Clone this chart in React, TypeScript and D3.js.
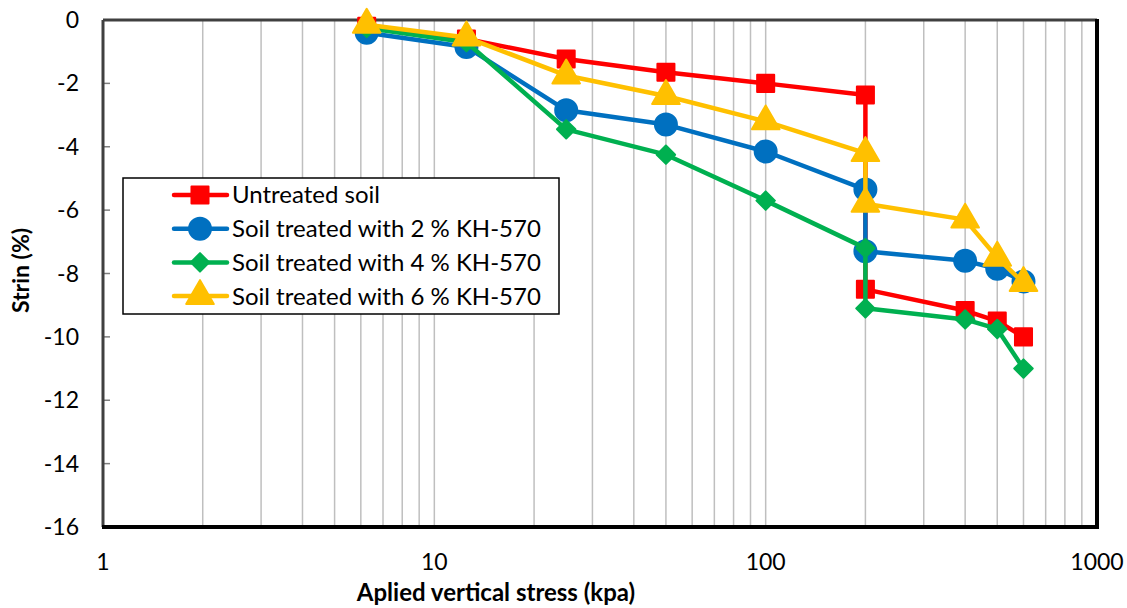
import * as d3 from 'd3';
import { useRef, useEffect } from 'react';

const stress = [6.25, 12.5, 25, 50, 100, 200, 200, 400, 500, 600];
const untreated = [-0.2, -0.6, -1.23, -1.65, -2.0, -2.37, -8.5, -9.17, -9.5, -10.0];
const kh2 = [-0.4, -0.85, -2.85, -3.3, -4.15, -5.35, -7.3, -7.6, -7.85, -8.25];
const kh4 = [-0.25, -0.7, -3.45, -4.25, -5.7, -7.2, -9.1, -9.45, -9.75, -11.0];
const kh6 = [-0.15, -0.55, -1.75, -2.4, -3.2, -4.2, -5.8, -6.3, -7.5, -8.3];
const seriesNames = [
    'Untreated soil',
    'Soil treated with 2 % KH-570',
    'Soil treated with 4 % KH-570',
    'Soil treated with 6 % KH-570',
];
const colors = ['#ff0000', '#0070c0', '#00b050', '#ffc000'];
const symbols = [d3.symbolSquare, d3.symbolCircle, d3.symbolSquare, d3.symbolTriangle];
const rotations = [0, 0, 45, 0];
const yTicks = [0, -2, -4, -6, -8, -10, -12, -14, -16];
const xTicks = [1, 10, 100, 1000];

const FONT = 'Lato, "Open Sans", sans-serif';

export default function App() {
    const svgRef = useRef<SVGSVGElement>(null);

    useEffect(() => {
        if (!svgRef.current) return;
        const svg = d3.select(svgRef.current);
        svg.selectAll('*').remove();

        const left = 103, right = 1097, top = 20, bottom = 527;
        const x = d3.scaleLog().domain([1, 1000]).range([left, right]);
        const y = d3.scaleLinear().domain([0, -16]).range([top, bottom]);

        // vertical gridlines (major + minor)
        const grid: number[] = [];
        for (let dec = 1; dec < 1000; dec *= 10) {
            for (let k = 2; k <= 10; k++) grid.push(dec * k);
        }
        svg.append('g')
            .selectAll('line')
            .data(grid.filter(v => v < 1000))
            .enter()
            .append('line')
            .attr('x1', d => x(d)).attr('x2', d => x(d))
            .attr('y1', top).attr('y2', bottom)
            .attr('stroke', '#bfbfbf')
            .attr('stroke-width', 1.5);

        // y tick marks
        svg.append('g')
            .selectAll('line')
            .data(yTicks)
            .enter()
            .append('line')
            .attr('x1', left).attr('x2', left + 7)
            .attr('y1', d => y(d)).attr('y2', d => y(d))
            .attr('stroke', '#7f7f7f')
            .attr('stroke-width', 1.5);

        // frame
        svg.append('line').attr('x1', left).attr('x2', right).attr('y1', top).attr('y2', top)
            .attr('stroke', '#404040').attr('stroke-width', 3);
        svg.append('line').attr('x1', left).attr('x2', left).attr('y1', top).attr('y2', bottom)
            .attr('stroke', '#404040').attr('stroke-width', 3);
        svg.append('line').attr('x1', right).attr('x2', right).attr('y1', top - 1).attr('y2', bottom + 2)
            .attr('stroke', '#000').attr('stroke-width', 4);
        svg.append('line').attr('x1', left - 1).attr('x2', right + 2).attr('y1', bottom).attr('y2', bottom)
            .attr('stroke', '#000').attr('stroke-width', 4);

        // tick labels
        svg.append('g')
            .selectAll('text')
            .data(yTicks)
            .enter()
            .append('text')
            .attr('x', 79)
            .attr('y', d => y(d))
            .attr('dy', '0.35em')
            .attr('text-anchor', 'end')
            .style('font-family', FONT)
            .style('font-size', '23px')
            .text(d => String(d));
        svg.append('g')
            .selectAll('text')
            .data(xTicks)
            .enter()
            .append('text')
            .attr('x', d => x(d))
            .attr('y', 570)
            .attr('text-anchor', 'middle')
            .style('font-family', FONT)
            .style('font-size', '23px')
            .text(d => String(d));

        // axis titles
        svg.append('text')
            .attr('x', 496).attr('y', 601)
            .attr('text-anchor', 'middle')
            .style('font-family', FONT)
            .style('font-size', '24px')
            .style('font-weight', 'bold')
            .text('Aplied vertical stress (kpa)');
        svg.append('text')
            .attr('transform', `translate(29,${(top + bottom) / 2 - 3}) rotate(-90)`)
            .attr('text-anchor', 'middle')
            .style('font-family', FONT)
            .style('font-size', '23px')
            .style('font-weight', 'bold')
            .text('Strin (%)');

        // series
        const allSeries = [untreated, kh2, kh4, kh6];
        const sizes = [290, 380, 170, 330];
        const line = d3.line<[number, number]>()
            .x(d => x(d[0]))
            .y(d => y(d[1]));

        allSeries.forEach((vals, i) => {
            const pts: [number, number][] = stress.map((s, j) => [s, vals[j]]);
            const g = svg.append('g');
            g.append('path')
                .attr('d', line(pts))
                .attr('fill', 'none')
                .attr('stroke', colors[i])
                .attr('stroke-width', 4.5)
                .attr('stroke-linejoin', 'round');
            g.selectAll('path.m')
                .data(pts)
                .enter()
                .append('path')
                .attr('class', 'm')
                .attr('d', d3.symbol(symbols[i], sizes[i])())
                .attr('transform', d => `translate(${x(d[0])},${y(d[1])}) rotate(${rotations[i]})`)
                .attr('fill', colors[i])
                .attr('stroke', colors[i])
                .attr('stroke-width', 2)
                .attr('stroke-linejoin', 'round');
        });

        // legend
        const lg = svg.append('g');
        lg.append('rect')
            .attr('x', 123).attr('y', 178)
            .attr('width', 436).attr('height', 136)
            .attr('fill', '#fff')
            .attr('stroke', '#000')
            .attr('stroke-width', 1.5);
        seriesNames.forEach((name, i) => {
            const cy = 195 + i * 33.7;
            lg.append('line')
                .attr('x1', 174).attr('x2', 227)
                .attr('y1', cy).attr('y2', cy)
                .attr('stroke', colors[i])
                .attr('stroke-width', 4.5)
                .attr('stroke-linecap', 'round');
            lg.append('path')
                .attr('d', d3.symbol(symbols[i], sizes[i])())
                .attr('transform', `translate(200,${cy}) rotate(${rotations[i]})`)
                .attr('fill', colors[i])
                .attr('stroke', colors[i])
                .attr('stroke-width', 2)
                .attr('stroke-linejoin', 'round');
            lg.append('text')
                .attr('x', 232).attr('y', cy)
                .attr('dy', '0.35em')
                .style('font-family', FONT)
                .style('font-size', '24px')
                .text(name);
        });
    }, []);

    return <svg ref={svgRef} width={1127} height={608} style={{ position: 'absolute', left: 0, top: 0 }} />;
}
